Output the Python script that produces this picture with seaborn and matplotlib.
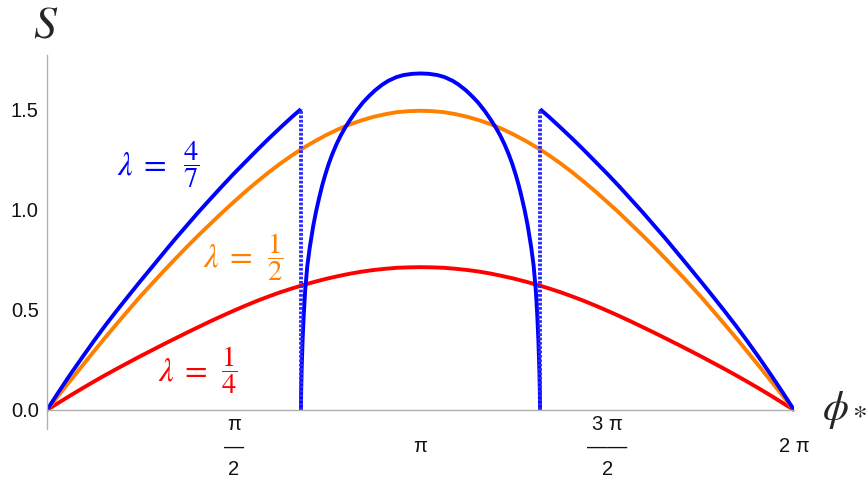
import numpy as np
import matplotlib
matplotlib.use("Agg")
import matplotlib.pyplot as plt
import seaborn as sns

# values (phi in radians, S)
phi = [0.000, 0.098, 0.196, 0.295, 0.393, 0.491, 0.589, 0.687, 0.785, 0.884, 0.982,
       1.080, 1.178, 1.276, 1.374, 1.473, 1.571, 1.669, 1.767, 1.865, 1.963, 2.062,
       2.160, 2.258, 2.356, 2.454, 2.553, 2.651, 2.749, 2.847, 2.945, 3.043, 3.142,
       3.240, 3.338, 3.436, 3.534, 3.633, 3.731, 3.829, 3.927, 4.025, 4.123, 4.222,
       4.320, 4.418, 4.516, 4.614, 4.712, 4.811, 4.909, 5.007, 5.105, 5.203, 5.301,
       5.400, 5.498, 5.596, 5.694, 5.792, 5.890, 5.989, 6.087, 6.185, 6.283]
s_quarter = [0, 0.036, 0.072, 0.107, 0.141, 0.174, 0.206, 0.237, 0.268, 0.298, 0.328,
             0.357, 0.386, 0.414, 0.442, 0.469, 0.495, 0.520, 0.544, 0.566, 0.587, 0.606,
             0.624, 0.640, 0.655, 0.668, 0.680, 0.690, 0.698, 0.704, 0.709, 0.711, 0.712,
             0.711, 0.709, 0.704, 0.698, 0.690, 0.680, 0.668, 0.655, 0.640, 0.624, 0.606,
             0.587, 0.566, 0.544, 0.520, 0.495, 0.469, 0.442, 0.414, 0.386, 0.357, 0.328,
             0.298, 0.268, 0.237, 0.206, 0.174, 0.141, 0.107, 0.072, 0.036, 0]
s_half = [0, 0.073, 0.146, 0.219, 0.291, 0.362, 0.431, 0.499, 0.566, 0.630, 0.693,
          0.754, 0.814, 0.872, 0.928, 0.984, 1.037, 1.089, 1.138, 1.185, 1.229, 1.270,
          1.308, 1.342, 1.373, 1.401, 1.425, 1.445, 1.462, 1.475, 1.485, 1.490, 1.492,
          1.490, 1.485, 1.475, 1.462, 1.445, 1.425, 1.401, 1.373, 1.342, 1.308, 1.270,
          1.229, 1.185, 1.138, 1.089, 1.037, 0.984, 0.928, 0.872, 0.814, 0.754, 0.693,
          0.630, 0.566, 0.499, 0.431, 0.362, 0.291, 0.219, 0.146, 0.073, 0]

# lambda = 4/7 : three branches
phi_left = [0.000, 0.098, 0.196, 0.295, 0.393, 0.491, 0.589, 0.687, 0.785, 0.884, 0.982,
            1.080, 1.178, 1.276, 1.374, 1.473, 1.571, 1.669, 1.767, 1.865, 1.963, 2.062, 2.136]
s_left = [0, 0.090, 0.177, 0.261, 0.343, 0.422, 0.497, 0.570, 0.642, 0.713, 0.784,
          0.854, 0.921, 0.988, 1.052, 1.116, 1.178, 1.237, 1.296, 1.353, 1.408, 1.462, 1.500]
phi_mid = [2.136, 2.138, 2.142, 2.150, 2.160, 2.172, 2.190, 2.210, 2.240, 2.265, 2.290,
           2.315, 2.340, 2.370, 2.400, 2.435, 2.470, 2.510, 2.550, 2.600, 2.660, 2.710,
           2.760, 2.820, 2.870, 2.940, 3.000, 3.070, 3.142, 3.213, 3.283, 3.343, 3.413,
           3.463, 3.523, 3.573, 3.623, 3.683, 3.733, 3.773, 3.813, 3.848, 3.883, 3.913,
           3.943, 3.968, 3.993, 4.018, 4.043, 4.073, 4.093, 4.111, 4.123, 4.133, 4.141,
           4.145, 4.147]
s_mid = [0, 0.10, 0.20, 0.35, 0.48, 0.60, 0.72, 0.81, 0.92, 0.995, 1.06,
         1.12, 1.172, 1.228, 1.276, 1.325, 1.368, 1.41, 1.447, 1.49, 1.535, 1.566,
         1.594, 1.622, 1.641, 1.660, 1.670, 1.676, 1.678, 1.676, 1.670, 1.660, 1.641,
         1.622, 1.594, 1.566, 1.535, 1.49, 1.447, 1.41, 1.368, 1.325, 1.276, 1.228,
         1.172, 1.12, 1.06, 0.995, 0.92, 0.81, 0.72, 0.60, 0.48, 0.35, 0.20,
         0.10, 0]
phi_right = [4.147, 4.221, 4.320, 4.418, 4.516, 4.614, 4.712, 4.811, 4.909, 5.007, 5.105,
             5.203, 5.301, 5.400, 5.498, 5.596, 5.694, 5.792, 5.890, 5.989, 6.087, 6.185, 6.283]
s_right = [1.500, 1.462, 1.408, 1.353, 1.296, 1.237, 1.178, 1.116, 1.052, 0.988, 0.921,
           0.854, 0.784, 0.713, 0.642, 0.570, 0.497, 0.422, 0.343, 0.261, 0.177, 0.090, 0]
# jumps of the lambda = 4/7 curve
jump_phi = [2.136, 4.147]
jump_top = 1.5

lambda_fracs = [r"\dfrac{4}{7}", r"\dfrac{1}{2}", r"\dfrac{1}{4}"]

xtick_pos = [np.pi / 2, np.pi, 3 * np.pi / 2, 2 * np.pi]
xtick_labels = ["π\n—\n2", "π", "3 π\n——\n2", "2 π"]
ytick_pos = [0.0, 0.5, 1.0, 1.5]
ytick_labels = ["0.0", "0.5", "1.0", "1.5"]

BLUE = "#0000ff"
ORANGE = "#ff8000"
RED = "#ff0000"
AXIS_GRAY = "#b0b0b0"

sns.set_style("white")
plt.rcParams["font.family"] = ["Liberation Sans", "DejaVu Sans"]

fig = plt.figure(figsize=(8.68, 4.84), dpi=100)
ax = fig.add_axes([47 / 868, 1 - 429 / 484, 747 / 868, 374 / 484])

lw = 2.8
line_kw = dict(linewidth=lw, sort=False, estimator=None, ax=ax, solid_joinstyle="round")
sns.lineplot(x=phi, y=s_quarter, color=RED, **line_kw)
sns.lineplot(x=phi, y=s_half, color=ORANGE, **line_kw)
for xs, ys in [(phi_left, s_left), (phi_mid, s_mid), (phi_right, s_right)]:
    sns.lineplot(x=xs, y=ys, color=BLUE, solid_capstyle="butt", **line_kw)
for xj in jump_phi:
    sns.lineplot(x=[xj, xj], y=[0, jump_top], color="#2b2bff", linewidth=lw,
                 linestyle=(0, (0.7, 0.42)), sort=False, estimator=None, ax=ax)

ax.set_xlim(0, 2 * np.pi)
ax.set_ylim(-0.095, 1.77)

# Mathematica style axes
for side in ["top", "right"]:
    ax.spines[side].set_visible(False)
ax.spines["bottom"].set_position(("data", 0))
for side in ["left", "bottom"]:
    ax.spines[side].set_color(AXIS_GRAY)
    ax.spines[side].set_linewidth(1.0)

ax.set_xticks(xtick_pos, labels=xtick_labels)
ax.set_yticks(ytick_pos, labels=ytick_labels)
ax.set_yticks([v / 10 for v in range(1, 18) if v % 5 != 0], minor=True)
ax.tick_params(axis="both", which="both", direction="in", color=AXIS_GRAY, width=1.0,
               labelsize=14.5, labelcolor="#111111")
ax.tick_params(axis="x", which="major", length=5, pad=26.5)
ax.tick_params(axis="y", which="major", length=5.5, pad=6)
ax.tick_params(axis="y", which="minor", length=3)
for lab in ax.get_xticklabels():
    lab.set_verticalalignment("center")
    lab.set_linespacing(1.25)
ax.set_xlabel("")
ax.set_ylabel("")
ax.grid(False)

# curve labels: "lambda =" part and the fraction part
label_spots = [(1.009, 1.211, 1.225), (1.724, 1.918, 0.764), (1.346, 1.531, 0.199)]
for frac, col, (x_eq, x_fr, y_l) in zip(lambda_fracs, [BLUE, ORANGE, RED], label_spots):
    ax.text(x_eq, y_l - 0.008, r"$\lambda\;=$", color=col, fontsize=23.5,
            math_fontfamily="stix", ha="right", va="center")
    ax.text(x_fr, y_l, "$" + frac + "$", color=col, fontsize=20.5,
            math_fontfamily="stix", ha="center", va="center")

# axis titles
fig.text(46 / 868, 1 - 26 / 484, r"$S$", fontsize=33, math_fontfamily="stix",
         ha="center", va="center")
fig.text(822 / 868, 1 - 410 / 484, r"$\phi_*$", fontsize=30, math_fontfamily="stix",
         ha="left", va="center")

fig.savefig("out.png", dpi=100)
